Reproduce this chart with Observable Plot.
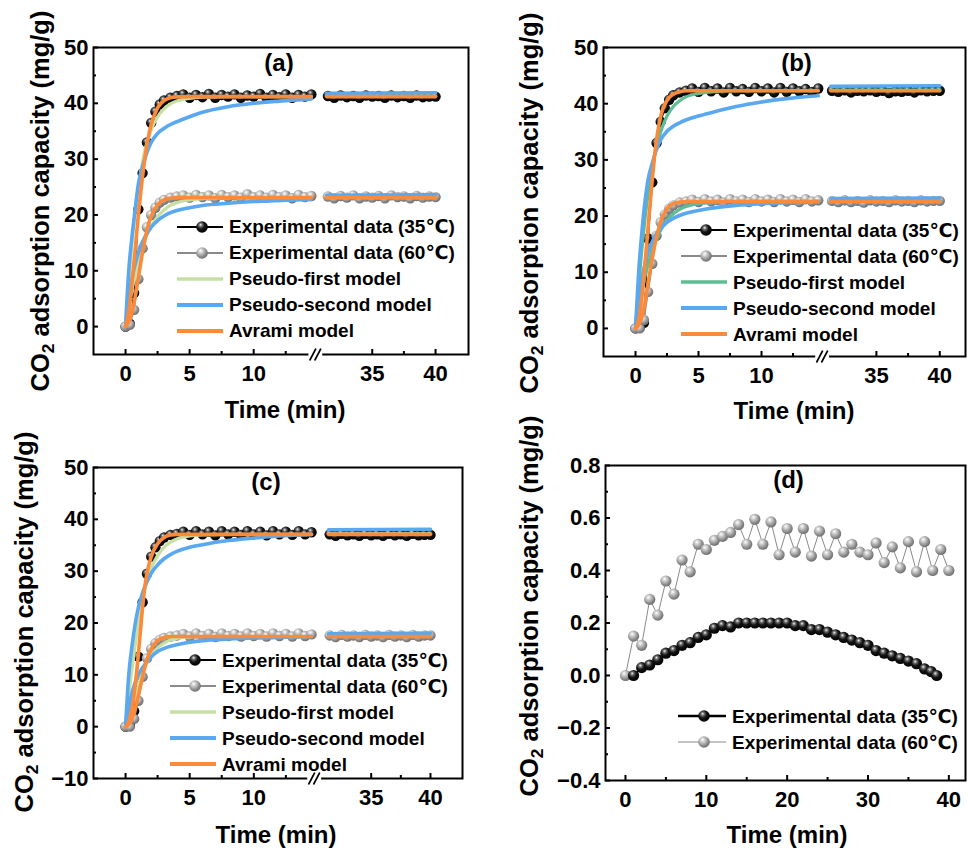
<!DOCTYPE html>
<html><head><meta charset="utf-8">
<script src="https://cdn.jsdelivr.net/npm/d3@7"></script>
<script src="https://cdn.jsdelivr.net/npm/@observablehq/plot@0.6"></script>
<style>
body{margin:0;background:#fff;}
#wrap{position:relative;width:967px;height:849px;overflow:hidden;font-family:"Liberation Sans",Arial,"DejaVu Sans",sans-serif;font-weight:bold;color:#000;}
.pn{position:absolute;}
.ttl{position:absolute;white-space:nowrap;font-size:24px;line-height:1;transform:translate(-50%,-50%);}
.ytl{position:absolute;white-space:nowrap;font-size:25.5px;line-height:1;transform:translate(-50%,-50%) rotate(-90deg);}
.ytl sub{font-size:0.68em;vertical-align:-0.3em;line-height:0;}
.lg{position:absolute;height:24px;display:flex;align-items:center;white-space:nowrap;font-size:19px;line-height:1;}
.lg svg{margin-right:6px;overflow:visible;}
</style></head>
<body><div id="wrap"></div>
<script>
// ---------------- data ----------------
const expTime = [0,0.33,0.67,1,1.33,1.67,2,2.33,2.67,3,3.5,4,
  4.5,5,5.5,6,6.5,7,7.5,8,8.5,9,9.5,10,10.5,11,11.5,12,12.5,13,13.5,14,14.5,
  31.5,32,32.5,33,33.5,34,34.5,35,35.5,36,36.5,37,37.5,38,38.5,39,39.5,40];
const modelTime = [0,0.25,0.5,0.75,1,1.25,1.5,1.75,2,2.5,3,3.5,4,5,6,8,10,12,14.5,31.4,40];

// panel (a)
const a35 = [0,0.5,6,21,27.5,33,36.5,38.5,39.8,40.5,41.0,41.3,
  41.6,41.0,41.5,41.1,41.7,41.0,41.5,41.2,41.6,41.0,41.4,41.2,41.7,41.0,41.5,41.1,41.6,41.0,41.5,41.2,41.6,
  41.3,41.0,41.4,41.1,41.3,41.0,41.4,41.2,41.3,41.0,41.4,41.1,41.3,41.0,41.4,41.1,41.2,41.2];
const a60 = [0,0.3,3,8.5,14,17.8,20,21.3,22.2,22.7,23.1,23.3,
  23.5,23.1,23.6,23.2,23.5,23.0,23.6,23.2,23.5,23.1,23.7,23.2,23.5,23.1,23.6,23.2,23.5,23.0,23.6,23.2,23.4,
  23.3,23.0,23.4,23.1,23.5,23.0,23.3,23.1,23.4,23.0,23.5,23.2,23.3,23.0,23.4,23.1,23.3,23.2];
const a35First  = [0,8,15,20.5,25,28.5,31.5,33.5,35.2,37.6,39.0,39.9,40.4,40.9,41.1,41.2,41.2,41.2,41.2,41.3,41.3];
const a35Second = [0,10,16,21,25.5,28,30,31.7,33,34.6,35.5,36.2,36.7,37.6,38.4,39.4,40.0,40.4,40.8,41.8,41.9];
const a35Avrami = [0,2.7,7.8,13.7,20,25.4,30,33.6,36.2,39.2,40.5,41.0,41.15,41.2,41.2,41.2,41.2,41.2,41.2,41.2,41.2];
const a60First  = [0,3.5,6.5,9.3,11.7,13.7,15.4,16.8,18,19.7,20.9,21.7,22.2,22.7,22.9,23.1,23.1,23.1,23.1,23.2,23.2];
const a60Second = [0,5,8.5,11.2,13.2,14.8,16,17,17.8,19,19.8,20.4,20.8,21.3,21.7,22.1,22.4,22.6,22.8,23.5,23.6];
const a60Avrami = [0,0.8,2.5,5.3,8.8,12.3,15.4,18,19.8,21.8,22.7,23.0,23.1,23.1,23.1,23.1,23.1,23.1,23.1,23.1,23.1];

// panel (b)
const b35 = [0,0.2,1,16,26,33,36.8,39.2,40.7,41.5,42,42.3,
  42.7,42.1,42.8,42.2,42.7,42.0,42.8,42.2,42.6,42.1,42.8,42.2,42.7,42.0,42.8,42.1,42.7,42.2,42.6,42.1,42.7,
  42.3,42.1,42.4,42.0,42.3,42.2,42.4,42.1,42.3,41.9,42.2,42.1,42.3,42.0,42.4,42.2,42.3,42.3];
const b60 = [0,0,1.5,6.5,11.5,16.5,18.9,20.3,21.3,21.9,22.4,22.6,
  22.9,22.5,23.0,22.6,22.9,22.4,23.0,22.6,22.9,22.5,23.0,22.6,22.9,22.5,23.0,22.6,22.9,22.5,23.0,22.6,22.8,
  22.7,22.5,22.8,22.5,22.7,22.4,22.8,22.6,22.7,22.5,22.8,22.6,22.7,22.5,22.8,22.6,22.7,22.7];
const b35First  = [0,7.5,14,19.5,24,27.7,30.7,33,35,37.8,39.5,40.5,41.2,41.8,42.1,42.3,42.3,42.3,42.3,42.4,42.4];
const b35Second = [0,10,17,22.5,26.5,28.8,30.7,32.3,33.6,35.1,36.0,36.6,37.1,37.8,38.4,39.5,40.3,40.9,41.4,43.1,43.2];
const b35Avrami = [0,1.5,5.5,11.5,18,24.5,30.5,34.8,37.8,40.6,41.7,42.1,42.3,42.3,42.3,42.3,42.3,42.3,42.3,42.3,42.3];
const b60First  = [0,3.5,6.5,9.2,11.5,13.4,15,16.3,17.5,19.2,20.4,21.2,21.7,22.2,22.4,22.6,22.6,22.6,22.6,22.7,22.7];
const b60Second = [0,5,8.8,11.5,13.5,15,16.2,17.1,17.8,18.9,19.6,20.1,20.5,21,21.4,21.9,22.2,22.4,22.6,23.1,23.2];
const b60Avrami = [0,0.6,2,4.5,8,11.5,14.5,17,19,21.3,22.2,22.5,22.6,22.6,22.6,22.6,22.6,22.6,22.6,22.6,22.6];

// panel (c)
const c35 = [0,0.3,3,13.5,24,29.5,32.8,34.6,35.8,36.5,37,37.2,
  37.6,37.0,37.7,37.1,37.6,36.9,37.7,37.1,37.6,37.0,37.7,37.1,37.6,36.9,37.7,37.1,37.6,37.0,37.7,37.1,37.5,
  37.1,36.8,37.2,36.9,37.1,36.8,37.2,36.9,37.1,36.8,37.2,36.9,37.1,36.8,37.2,36.9,37.0,37.0];
const c60 = [0,0,1.5,5,9.6,13.2,15,16.1,16.8,17.1,17.4,17.6,
  17.9,17.4,18.0,17.5,17.9,17.3,18.0,17.5,17.9,17.4,18.0,17.5,17.9,17.4,18.0,17.5,17.9,17.4,18.0,17.5,17.8,
  17.6,17.3,17.7,17.4,17.6,17.3,17.7,17.4,17.6,17.3,17.7,17.4,17.6,17.3,17.7,17.4,17.6,17.6];
const c35First  = [0,6,11,15.8,20,23.5,26.5,28.8,30.6,33,34.6,35.6,36.2,36.8,37,37.1,37.1,37.1,37.1,37.2,37.2];
const c35Second = [0,10,15.5,19.8,23,25.2,27,28.4,29.6,31.2,32.4,33.2,33.8,34.6,35.1,35.9,36.4,36.8,37.1,38.0,38.1];
const c35Avrami = [0,1,3.5,8,14,21,27,30.5,32.8,35.3,36.5,37,37.1,37.1,37.1,37.1,37.1,37.1,37.1,37.1,37.1];
const c60First  = [0,2.3,4.3,6.2,8,9.8,11.3,12.6,13.7,15.2,16.1,16.7,17,17.3,17.4,17.4,17.4,17.4,17.4,17.5,17.5];
const c60Second = [0,3.5,6.5,8.5,10,11.1,12,12.8,13.5,14.5,15.1,15.5,15.8,16.3,16.6,16.9,17.1,17.2,17.4,17.9,18.0];
const c60Avrami = [0,0.4,1.5,3.5,6,8.8,11.5,13.5,15,16.6,17.2,17.4,17.4,17.4,17.4,17.4,17.4,17.4,17.4,17.4,17.4];

// panel (d)
const d35Time = [1,2,3,4,5,6,7,8,9,10,11,12,13,14,15,16,17,18,19,20,21,22,23,24,25,26,27,28,29,30,31,32,33,34,35,36,37,37.8,38.5];
const d35 = [0.0,0.03,0.04,0.06,0.085,0.095,0.115,0.125,0.145,0.155,0.18,0.19,0.185,0.2,0.2,0.2,0.2,0.2,0.2,0.2,
  0.19,0.19,0.175,0.175,0.165,0.155,0.145,0.135,0.125,0.115,0.095,0.085,0.075,0.065,0.055,0.045,0.025,0.015,0.0];
const d60Time = [0,1,2,3,4,5,6,7,8,9,10,11,12,13,14,15,16,17,18,19,20,21,22,23,24,25,26,27,28,29,30,31,32,33,34,35,36,37,38,39,40];
const d60 = [0,0.15,0.115,0.29,0.23,0.36,0.31,0.44,0.395,0.5,0.48,0.515,0.53,0.545,0.575,0.5,0.595,0.5,0.585,0.46,
  0.56,0.47,0.56,0.455,0.55,0.46,0.54,0.47,0.5,0.47,0.46,0.505,0.43,0.49,0.41,0.51,0.395,0.51,0.40,0.48,0.40];

// ticks
const xMajorBroken = [0,5,10,35,40];
const xMinorBroken = [2.5,7.5,12.5,37.5];
const yMajorAB = [0,10,20,30,40,50];
const yMinorAB = [5,15,25,35,45];
const yMajorC = [-10,0,10,20,30,40,50];
const yMinorC = [-5,5,15,25,35,45];
const xMajorD = [0,10,20,30,40];
const xMinorD = [5,15,25,35];
const yMajorD = [-0.4,-0.2,0,0.2,0.4,0.6,0.8];
const yMinorD = [-0.3,-0.1,0.1,0.3,0.5,0.7];

const legendLabels = ["Experimental data (35℃)","Experimental data (60℃)","Pseudo-first model","Pseudo-second model","Avrami model"];
const colors = {first:"#c8dfa4", firstB:"#5ebd92", second:"#5aa8ef", avrami:"#fb8b3b", gray:"#8a8a8a"};

// ---------------- helpers ----------------
const wrap = document.getElementById("wrap");
const NS = "http://www.w3.org/2000/svg";
(function defs(){
  const s = document.createElementNS(NS,"svg");
  s.setAttribute("width","0"); s.setAttribute("height","0");
  s.style.position="absolute";
  s.innerHTML = `<defs>
   <radialGradient id="ballBlack" cx="0.4" cy="0.38" r="0.62" fx="0.38" fy="0.3">
     <stop offset="0" stop-color="#f0f0f0"/><stop offset="0.25" stop-color="#6a6a6a"/>
     <stop offset="0.55" stop-color="#141414"/><stop offset="1" stop-color="#000"/></radialGradient>
   <radialGradient id="ballGray" cx="0.4" cy="0.38" r="0.62" fx="0.38" fy="0.3">
     <stop offset="0" stop-color="#ffffff"/><stop offset="0.3" stop-color="#cfcfcf"/>
     <stop offset="0.75" stop-color="#8c8c8c"/><stop offset="1" stop-color="#707070"/></radialGradient>
  </defs>`;
  wrap.appendChild(s);
})();

function place(el, left, top){
  const d = document.createElement("div");
  d.className = "pn"; d.style.left = left+"px"; d.style.top = top+"px";
  d.appendChild(el); wrap.appendChild(d);
}
function addText(cls, html, x, y){
  const d = document.createElement("div");
  d.className = cls; d.innerHTML = html;
  d.style.left = x+"px"; d.style.top = y+"px";
  wrap.appendChild(d);
}
function legend(items, x, y0, step, sw){
  items.forEach((it,i)=>{
    const d = document.createElement("div");
    d.className = "lg";
    d.style.left = x+"px"; d.style.top = (y0 + i*step - 12)+"px";
    const ball = it.ball ? `<circle cx="${sw/2+2}" cy="12" r="5.8" fill="url(#${it.ball})"/>` : "";
    d.innerHTML = `<svg width="${sw}" height="24"><line x1="0" x2="${sw}" y1="12" y2="12" stroke="${it.color}" stroke-width="${it.w}"/>${ball}</svg><span>${it.label}</span>`;
    wrap.appendChild(d);
  });
}
const seg = t => (t > 20 ? 1 : 0);
function rows(times, vals){ return vals.map((v,i)=>({t:times[i], v, s:seg(times[i])})); }

function axes(o){
  return [
    Plot.frame({stroke:"black", strokeWidth:2}),
    Plot.axisY(o.yMajor, {tickSize:-5, tickPadding:10, strokeWidth:2, tickFormat:o.yFmt, label:null, fontSize:22}),
    Plot.axisY(o.yMinor, {tickSize:-3, tickPadding:0, strokeWidth:2, tickFormat:()=>"", label:null}),
    Plot.axisX(o.xMajor, {tickSize:-5, tickPadding:16, strokeWidth:2, tickFormat:o.xFmt, label:null, fontSize:22}),
    Plot.axisX(o.xMinor, {tickSize:-3, tickPadding:0, strokeWidth:2, tickFormat:()=>"", label:null})
  ];
}

const breakMark = {a:[15.0], b:[15.05], c:[14.85]};
const stroke1 = {draw(context, l){ context.moveTo(0, 0); context.lineTo(0, -l); }};

function breakMarks(brk){
  return [
    Plot.vector(brk, {x:d=>d, frameAnchor:"bottom", length:9, rotate:90, anchor:"middle", shape:stroke1, stroke:"white", strokeWidth:5}),
    Plot.vector(brk, {x:d=>d, frameAnchor:"bottom", length:12, rotate:28, anchor:"middle", shape:stroke1, stroke:"black", strokeWidth:1.8, dx:-2.5}),
    Plot.vector(brk, {x:d=>d, frameAnchor:"bottom", length:12, rotate:28, anchor:"middle", shape:stroke1, stroke:"black", strokeWidth:1.8, dx:2.5})
  ];
}

function kinPanel(c){
  const e35 = rows(expTime, c.e35), e60 = rows(expTime, c.e60);
  const m = k => rows(modelTime, c[k]);
  const lw = {strokeWidth:3.6, curve:"monotone-x", z:"s"};
  return Plot.plot({
    width:c.w, height:c.h, marginLeft:c.ml, marginRight:c.mr, marginTop:c.mt, marginBottom:c.mb,
    style:{fontFamily:'"Liberation Sans", Arial, sans-serif', fontWeight:"bold", fontSize:"22px", color:"black", background:"transparent", overflow:"visible"},
    x:{type:"linear", domain:c.xd, range:c.xr, label:null},
    y:{domain:c.yd, label:null},
    marks:[
      Plot.line(e35, {x:"t", y:"v", z:"s", stroke:"black", strokeWidth:1.5}),
      Plot.dot(e35, {x:"t", y:"v", r:5.2, fill:"url(#ballBlack)"}),
      Plot.line(e60, {x:"t", y:"v", z:"s", stroke:colors.gray, strokeWidth:1.5}),
      Plot.dot(e60, {x:"t", y:"v", r:5.2, fill:"url(#ballGray)"}),
      Plot.line(m("f35"), {x:"t", y:"v", stroke:c.firstColor, ...lw, strokeWidth:3.2}),
      Plot.line(m("f60"), {x:"t", y:"v", stroke:c.firstColor, ...lw, strokeWidth:3.2}),
      Plot.line(m("s35"), {x:"t", y:"v", stroke:colors.second, ...lw}),
      Plot.line(m("s60"), {x:"t", y:"v", stroke:colors.second, ...lw}),
      Plot.line(m("a35"), {x:"t", y:"v", stroke:colors.avrami, ...lw}),
      Plot.line(m("a60"), {x:"t", y:"v", stroke:colors.avrami, ...lw}),
      ...axes({yMajor:c.yMajor, yMinor:c.yMinor, xMajor:xMajorBroken, xMinor:xMinorBroken, yFmt:d3.format("d"), xFmt:d=>String(d)}),
      ...breakMarks(c.brk),
      Plot.text([c.label], {frameAnchor:"top", dy:c.ldy, dx:c.ldx, lineAnchor:"middle", fontSize:24, fontWeight:"bold", fill:"black"})
    ]
  });
}

// (a)
place(kinPanel({w:483,h:430,ml:93,mr:15,mt:47,mb:76,
  xd:[-2.5,14.8,31.2,42.6], xr:[93,314.7,323.6,468], yd:[-5,50], yMajor:yMajorAB, yMinor:yMinorAB,
  e35:a35, e60:a60, f35:a35First, s35:a35Second, a35:a35Avrami, f60:a60First, s60:a60Second, a60:a60Avrami,
  firstColor:colors.first, brk:breakMark.a, label:"(a)", ldx:-2, ldy:16}), 0, 0);
// (b)
place(kinPanel({w:484,h:430,ml:120,mr:2,mt:47,mb:74,
  xd:[-2.54,14.8,31.3,42.03], xr:[120,338.5,346,482], yd:[-5,50], yMajor:yMajorAB, yMinor:yMinorAB,
  e35:b35, e60:b60, f35:b35First, s35:b35Second, a35:b35Avrami, f60:b60First, s60:b60Second, a60:b60Avrami,
  firstColor:colors.firstB, brk:breakMark.b, label:"(b)", ldx:12, ldy:16}), 483, 0);
// (c)
place(kinPanel({w:483,h:419,ml:93,mr:21,mt:37,mb:71,
  xd:[-2.5,14.7,30.6,42.7], xr:[93,313.6,318.5,462], yd:[-10,50], yMajor:yMajorC, yMinor:yMinorC,
  e35:c35, e60:c60, f35:c35First, s35:c35Second, a35:c35Avrami, f60:c60First, s60:c60Second, a60:c60Avrami,
  firstColor:colors.first, brk:breakMark.c, label:"(c)", ldx:-12, ldy:15}), 0, 430);

// (d)
(function(){
  const e35 = d35.map((v,i)=>({t:d35Time[i], v}));
  const e60 = d60.map((v,i)=>({t:d60Time[i], v}));
  const svg = Plot.plot({
    width:484, height:419, marginLeft:122, marginRight:2, marginTop:35, marginBottom:69,
    style:{fontFamily:'"Liberation Sans", Arial, sans-serif', fontWeight:"bold", fontSize:"22px", color:"black", background:"transparent", overflow:"visible"},
    x:{domain:[-2.47,42.06], label:null},
    y:{domain:[-0.4,0.8], label:null},
    marks:[
      Plot.line(e60, {x:"t", y:"v", stroke:colors.gray, strokeWidth:1}),
      Plot.dot(e60, {x:"t", y:"v", r:5.6, fill:"url(#ballGray)"}),
      Plot.line(e35, {x:"t", y:"v", stroke:"black", strokeWidth:2}),
      Plot.dot(e35, {x:"t", y:"v", r:5.6, fill:"url(#ballBlack)"}),
      ...axes({yMajor:yMajorD, yMinor:yMinorD, xMajor:xMajorD, xMinor:xMinorD, yFmt:d3.format(".1f"), xFmt:d3.format("d")}),
      Plot.text(["(d)"], {frameAnchor:"top", dy:15, dx:3, lineAnchor:"middle", fontSize:24, fontWeight:"bold", fill:"black"})
    ]
  });
  place(svg, 483, 430);
})();

// axis titles
const yTitle = 'CO<sub>2</sub> adsorption capacity (mg/g)';
addText("ytl", yTitle, 41, 201);
addText("ytl", yTitle, 530, 203);
addText("ytl", yTitle, 25, 622);
addText("ytl", yTitle, 530, 606);
addText("ttl", "Time (min)", 285, 410);
addText("ttl", "Time (min)", 794, 411);
addText("ttl", "Time (min)", 276, 835);
addText("ttl", "Time (min)", 787, 835);

// legends
function kinLegend(firstColor){
  return [
    {label:legendLabels[0], color:"black", w:2, ball:"ballBlack"},
    {label:legendLabels[1], color:colors.gray, w:2, ball:"ballGray"},
    {label:legendLabels[2], color:firstColor, w:3.5},
    {label:legendLabels[3], color:colors.second, w:4},
    {label:legendLabels[4], color:colors.avrami, w:4}
  ];
}
legend(kinLegend(colors.first), 177, 226.5, 26, 46);
legend(kinLegend(colors.firstB), 681, 230, 26, 46);
legend(kinLegend(colors.first), 170, 660, 26, 46);
legend([
  {label:legendLabels[0], color:"black", w:2.5, ball:"ballBlack"},
  {label:legendLabels[1], color:colors.gray, w:1, ball:"ballGray"}
], 678, 716, 26, 48);
</script></body></html>
